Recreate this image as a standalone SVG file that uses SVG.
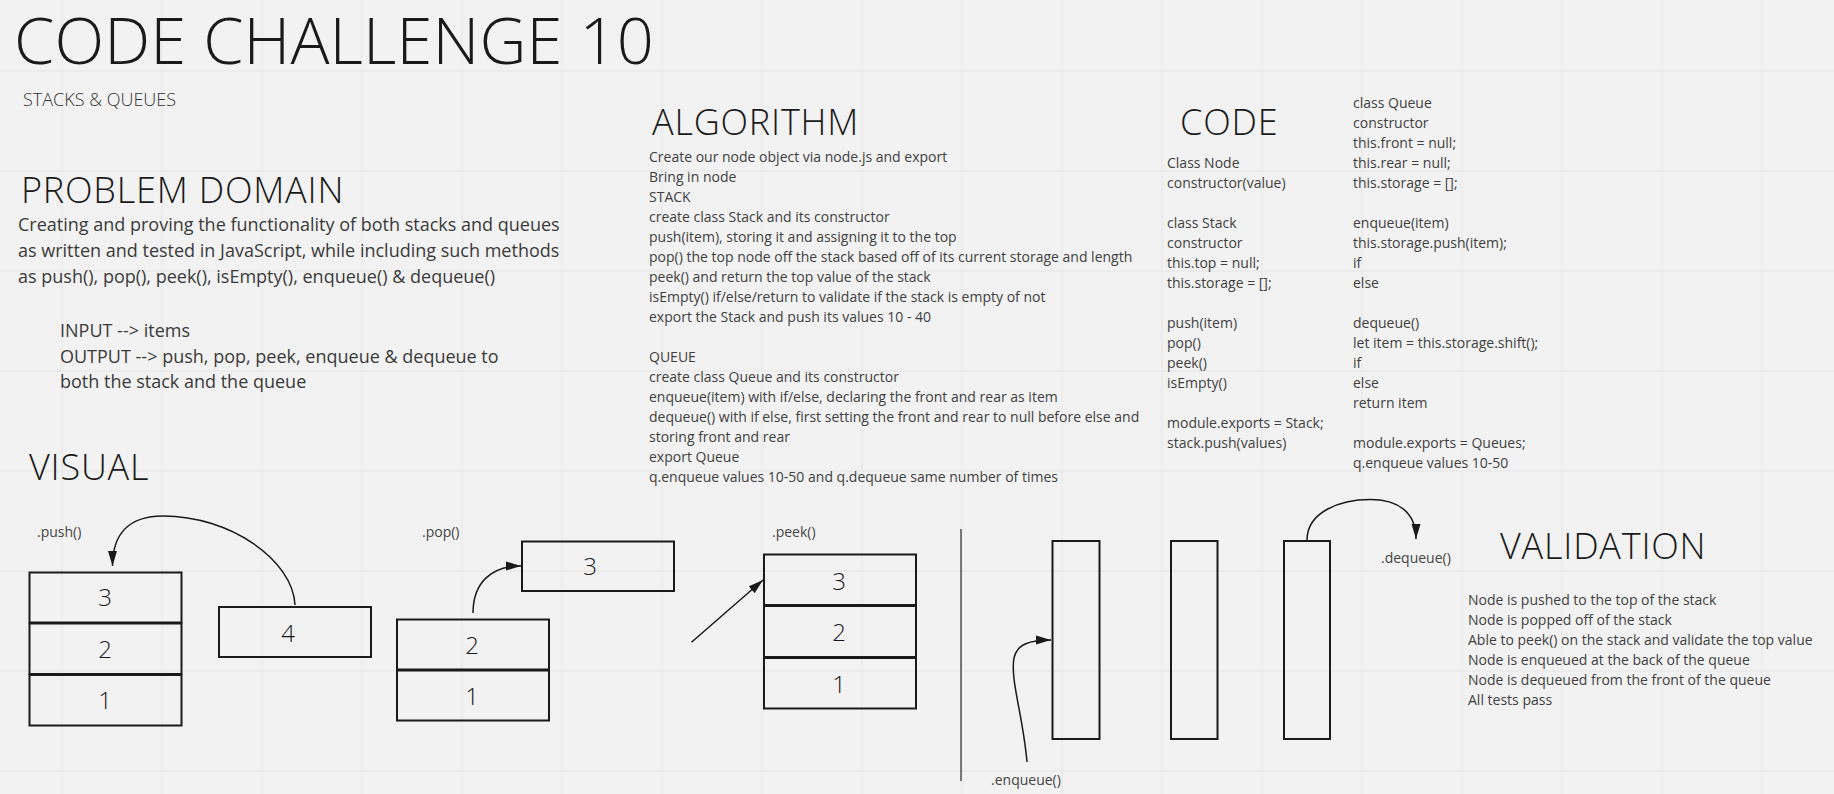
<svg xmlns="http://www.w3.org/2000/svg" width="1834" height="794" viewBox="0 0 1834 794">
<defs>
<style>
text{font-family:"Open Sans","Liberation Sans",sans-serif;fill:#404040}
.h1{font-size:65px;fill:#1a1a1a;font-weight:300;letter-spacing:0.1px}
.h2{font-size:36px;fill:#1a1a1a;font-weight:300;letter-spacing:0.8px}
.sub{font-size:18px;font-weight:300;fill:#333}
.p{font-size:18px;fill:#3a3a3a}
.t{font-size:14px}
.lbl{font-size:14px;fill:#444}
.dig{font-size:24px;fill:#1a1a1a;text-anchor:middle;font-weight:300}
.box{fill:none;stroke:#1a1a1a;stroke-width:2}
.con{fill:none;stroke:#1a1a1a;stroke-width:1.5}
.grid{fill:none;stroke:#e6e6e6;stroke-width:1}
</style>
<marker id="ah" markerWidth="16" markerHeight="10" refX="15" refY="5" orient="auto" markerUnits="userSpaceOnUse">
<path d="M0,0.5 L15,5 L0,9.5 z" fill="#1a1a1a"/>
</marker>
</defs>
<rect width="1834" height="794" fill="#f2f2f2"/>
<path class="grid" d="M62,0V794M162,0V794M262,0V794M362,0V794M462,0V794M562,0V794M662,0V794M762,0V794M862,0V794M962,0V794M1062,0V794M1162,0V794M1262,0V794M1362,0V794M1462,0V794M1562,0V794M1662,0V794M1762,0V794M0,71H1834M0,171H1834M0,271H1834M0,371H1834M0,471H1834M0,571H1834M0,671H1834M0,771H1834"/>

<g id="title"><text class="h1" x="14" y="64">CODE CHALLENGE 10</text></g>
<g id="subtitle"><text class="sub" x="23" y="106">STACKS &amp; QUEUES</text></g>

<g id="problem-domain">
<text class="h2" x="21" y="203">PROBLEM DOMAIN</text>
<text class="p" x="18" y="231">Creating and proving the functionality of both stacks and queues</text>
<text class="p" x="18" y="257">as written and tested in JavaScript, while including such methods</text>
<text class="p" x="18" y="283">as push(), pop(), peek(), isEmpty(), enqueue() &amp; dequeue()</text>
<text class="p" x="60" y="337">INPUT --&gt; items</text>
<text class="p" x="60" y="362.5">OUTPUT --&gt; push, pop, peek, enqueue &amp; dequeue to</text>
<text class="p" x="60" y="388">both the stack and the queue</text>
</g>

<g id="algorithm">
<text class="h2" x="652" y="135">ALGORITHM</text>
<text class="t" x="649" y="162">Create our node object via node.js and export</text>
<text class="t" x="649" y="182">Bring in node</text>
<text class="t" x="649" y="202">STACK</text>
<text class="t" x="649" y="222">create class Stack and its constructor</text>
<text class="t" x="649" y="242">push(item), storing it and assigning it to the top</text>
<text class="t" x="649" y="262">pop() the top node off the stack based off of its current storage and length</text>
<text class="t" x="649" y="282">peek() and return the top value of the stack</text>
<text class="t" x="649" y="302">isEmpty() if/else/return to validate if the stack is empty of not</text>
<text class="t" x="649" y="322">export the Stack and push its values 10 - 40</text>
<text class="t" x="649" y="362">QUEUE</text>
<text class="t" x="649" y="382">create class Queue and its constructor</text>
<text class="t" x="649" y="402">enqueue(item) with if/else, declaring the front and rear as item</text>
<text class="t" x="649" y="422">dequeue() with if else, first setting the front and rear to null before else and</text>
<text class="t" x="649" y="442">storing front and rear</text>
<text class="t" x="649" y="462">export Queue</text>
<text class="t" x="649" y="482">q.enqueue values 10-50 and q.dequeue same number of times</text>
</g>

<g id="code">
<text class="h2" x="1180" y="135">CODE</text>
<text class="t" x="1167" y="168">Class Node</text>
<text class="t" x="1167" y="188">constructor(value)</text>
<text class="t" x="1167" y="228">class Stack</text>
<text class="t" x="1167" y="248">constructor</text>
<text class="t" x="1167" y="268">this.top = null;</text>
<text class="t" x="1167" y="288">this.storage = [];</text>
<text class="t" x="1167" y="328">push(item)</text>
<text class="t" x="1167" y="348">pop()</text>
<text class="t" x="1167" y="368">peek()</text>
<text class="t" x="1167" y="388">isEmpty()</text>
<text class="t" x="1167" y="428">module.exports = Stack;</text>
<text class="t" x="1167" y="448">stack.push(values)</text>
<text class="t" x="1353" y="108">class Queue</text>
<text class="t" x="1353" y="128">constructor</text>
<text class="t" x="1353" y="148">this.front = null;</text>
<text class="t" x="1353" y="168">this.rear = null;</text>
<text class="t" x="1353" y="188">this.storage = [];</text>
<text class="t" x="1353" y="228">enqueue(item)</text>
<text class="t" x="1353" y="248">this.storage.push(item);</text>
<text class="t" x="1353" y="268">if</text>
<text class="t" x="1353" y="288">else</text>
<text class="t" x="1353" y="328">dequeue()</text>
<text class="t" x="1353" y="348">let item = this.storage.shift();</text>
<text class="t" x="1353" y="368">if</text>
<text class="t" x="1353" y="388">else</text>
<text class="t" x="1353" y="408">return item</text>
<text class="t" x="1353" y="448">module.exports = Queues;</text>
<text class="t" x="1353" y="468">q.enqueue values 10-50</text>
</g>

<g id="visual-heading"><text class="h2" x="29" y="480">VISUAL</text></g>

<g id="push-label"><text class="lbl" x="37" y="537">.push()</text></g>
<g id="push-stack">
<rect class="box" x="29.5" y="572.5" width="152" height="50"/>
<rect class="box" x="29.5" y="623.5" width="152" height="50.5"/>
<rect class="box" x="29.5" y="675" width="152" height="50.5"/>
<text class="dig" x="105" y="606">3</text>
<text class="dig" x="105" y="658">2</text>
<text class="dig" x="105" y="709">1</text>
</g>
<g id="push-node">
<rect class="box" x="219" y="607" width="152" height="50"/>
<text class="dig" x="288" y="641.5">4</text>
</g>

<g id="pop-label"><text class="lbl" x="422" y="537">.pop()</text></g>
<g id="pop-stack">
<rect class="box" x="397" y="619.5" width="152" height="50"/>
<rect class="box" x="397" y="670.5" width="152" height="50"/>
<text class="dig" x="472" y="653.5">2</text>
<text class="dig" x="472" y="705">1</text>
</g>
<g id="pop-node">
<rect class="box" x="522" y="541.5" width="152" height="49.5"/>
<text class="dig" x="590" y="574.5">3</text>
</g>

<g id="peek-label"><text class="lbl" x="772" y="537">.peek()</text></g>
<g id="peek-stack">
<rect class="box" x="764" y="554.5" width="152" height="50.5"/>
<rect class="box" x="764" y="606" width="152" height="51"/>
<rect class="box" x="764" y="658" width="152" height="50.5"/>
<text class="dig" x="839" y="589.5">3</text>
<text class="dig" x="839" y="641">2</text>
<text class="dig" x="839" y="693">1</text>
</g>

<g id="separator"><line x1="961" y1="529" x2="961" y2="781" stroke="#777" stroke-width="2"/></g>

<g id="queue-1"><rect class="box" x="1052.5" y="541" width="47" height="198"/></g>
<g id="queue-2"><rect class="box" x="1171" y="541" width="46.5" height="198"/></g>
<g id="queue-3"><rect class="box" x="1284" y="541" width="46" height="198"/></g>
<g id="enqueue-label"><text class="lbl" x="991" y="785">.enqueue()</text></g>
<g id="dequeue-label"><text class="lbl" x="1381" y="563">.dequeue()</text></g>

<g id="validation">
<text class="h2" x="1500" y="559">VALIDATION</text>
<text class="t" x="1468" y="605">Node is pushed to the top of the stack</text>
<text class="t" x="1468" y="625">Node is popped off of the stack</text>
<text class="t" x="1468" y="645">Able to peek() on the stack and validate the top value</text>
<text class="t" x="1468" y="665">Node is enqueued at the back of the queue</text>
<text class="t" x="1468" y="685">Node is dequeued from the front of the queue</text>
<text class="t" x="1468" y="705">All tests pass</text>
</g>

<g id="connectors">
<path class="con" d="M295,605 C293,560 230,516 163,516 C128,516 112.5,535 112.5,566" marker-end="url(#ah)"/>
<path class="con" d="M473,613 C473,582 492,566 521,566" marker-end="url(#ah)"/>
<path class="con" d="M691.5,642.3 L763,580" marker-end="url(#ah)"/>
<path class="con" d="M1027,762 C1023,715 1010,680 1014,658 C1017,644 1030,640 1051,640" marker-end="url(#ah)"/>
<path class="con" d="M1307,540 C1307,512 1340,499.5 1370,499.5 C1398,499.5 1416,512 1416,539" marker-end="url(#ah)"/>
</g>
</svg>
